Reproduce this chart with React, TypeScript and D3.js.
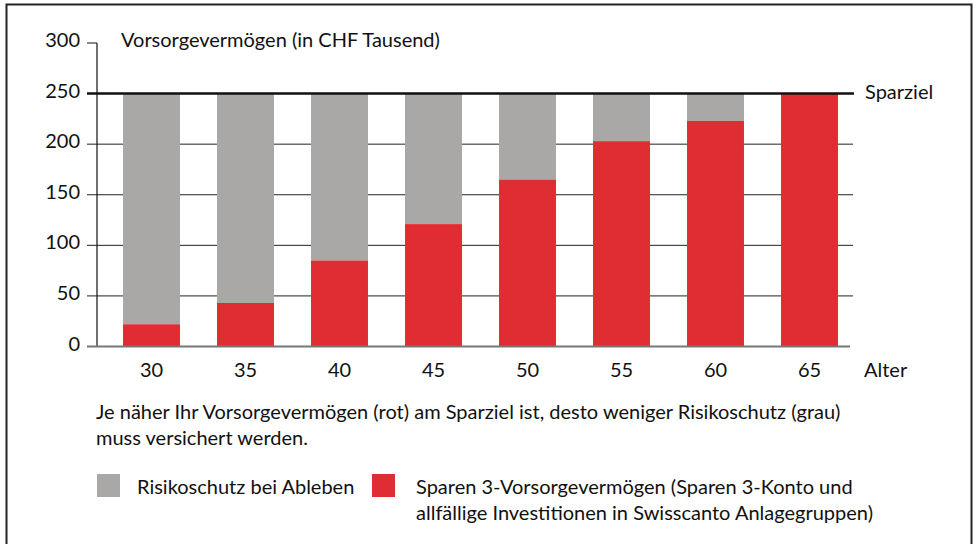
import React from 'react'
import * as d3 from 'd3'

const ages = ['30', '35', '40', '45', '50', '55', '60', '65']
const savings = [22, 43, 85, 121, 165, 203, 223, 250]
const goal = 250
const yTicks = [0, 50, 100, 150, 200, 250, 300]

const RED = '#e02d34'
const GREY = '#a9a8a7'
const FONT = 'Lato, sans-serif'

export default function App() {
  const width = 977
  const height = 544

  const x = d3
    .scaleBand<string>()
    .domain(ages)
    .range([104.5, 856.5])
    .paddingInner(0.394)
    .paddingOuter(0.197)

  const y = d3.scaleLinear().domain([0, 300]).range([346.5, 43])

  const axisX = 97
  const tickStart = 87
  const gridEnd = 853

  return (
    <svg
      width={width}
      height={height}
      style={{ position: 'absolute', left: 0, top: 0, background: '#fff' }}
      fontFamily={FONT}
    >
      <rect x={6.5} y={4.5} width={965} height={560} fill="#fff" stroke="#222" strokeWidth={2} />

      {/* gridlines */}
      {yTicks
        .filter((t) => t !== 0 && t !== 300 && t !== goal)
        .map((t) => (
          <line key={t} x1={tickStart} x2={gridEnd} y1={y(t)} y2={y(t)} stroke="#222" strokeWidth={1} />
        ))}

      {/* bars */}
      {ages.map((a, i) => (
        <g key={a}>
          <rect x={x(a)} width={x.bandwidth()} y={y(goal)} height={y(savings[i]) - y(goal)} fill={GREY} />
          <rect x={x(a)} width={x.bandwidth()} y={y(savings[i])} height={y(0) - y(savings[i])} fill={RED} />
        </g>
      ))}

      {/* y axis */}
      <line x1={axisX} x2={axisX} y1={y(300)} y2={y(0)} stroke="#111" strokeWidth={1.2} />
      <line x1={tickStart} x2={axisX} y1={y(300)} y2={y(300)} stroke="#111" strokeWidth={1} />
      <line x1={tickStart} x2={850} y1={y(0)} y2={y(0)} stroke="#777" strokeWidth={2} />
      <line x1={tickStart} x2={854} y1={y(goal)} y2={y(goal)} stroke="#111" strokeWidth={2.5} />

      {yTicks.map((t) => (
        <text key={t} x={80} y={y(t) + 4} textAnchor="end" fontSize={20} fill="#111">
          {t}
        </text>
      ))}

      {ages.map((a) => (
        <text key={a} x={(x(a) ?? 0) + x.bandwidth() / 2} y={377} textAnchor="middle" fontSize={20} fill="#111">
          {a}
        </text>
      ))}

      <text x={121} y={47} fontSize={20} fill="#111">
        Vorsorgevermögen (in CHF Tausend)
      </text>
      <text x={865} y={99} fontSize={20} fill="#111">
        Sparziel
      </text>
      <text x={864} y={377} fontSize={20} fill="#111">
        Alter
      </text>

      <text x={96} y={419} fontSize={20} fill="#111">
        Je näher Ihr Vorsorgevermögen (rot) am Sparziel ist, desto weniger Risikoschutz (grau)
      </text>
      <text x={96} y={445} fontSize={20} fill="#111">
        muss versichert werden.
      </text>

      <rect x={97} y={474} width={23} height={23} fill={GREY} />
      <text x={137} y={494} fontSize={20} fill="#111">
        Risikoschutz bei Ableben
      </text>
      <rect x={372} y={474} width={23} height={23} fill={RED} />
      <text x={416} y={494} fontSize={20} fill="#111">
        Sparen 3-Vorsorgevermögen (Sparen 3-Konto und
      </text>
      <text x={416} y={520} fontSize={20} fill="#111">
        allfällige Investitionen in Swisscanto Anlagegruppen)
      </text>
    </svg>
  )
}
